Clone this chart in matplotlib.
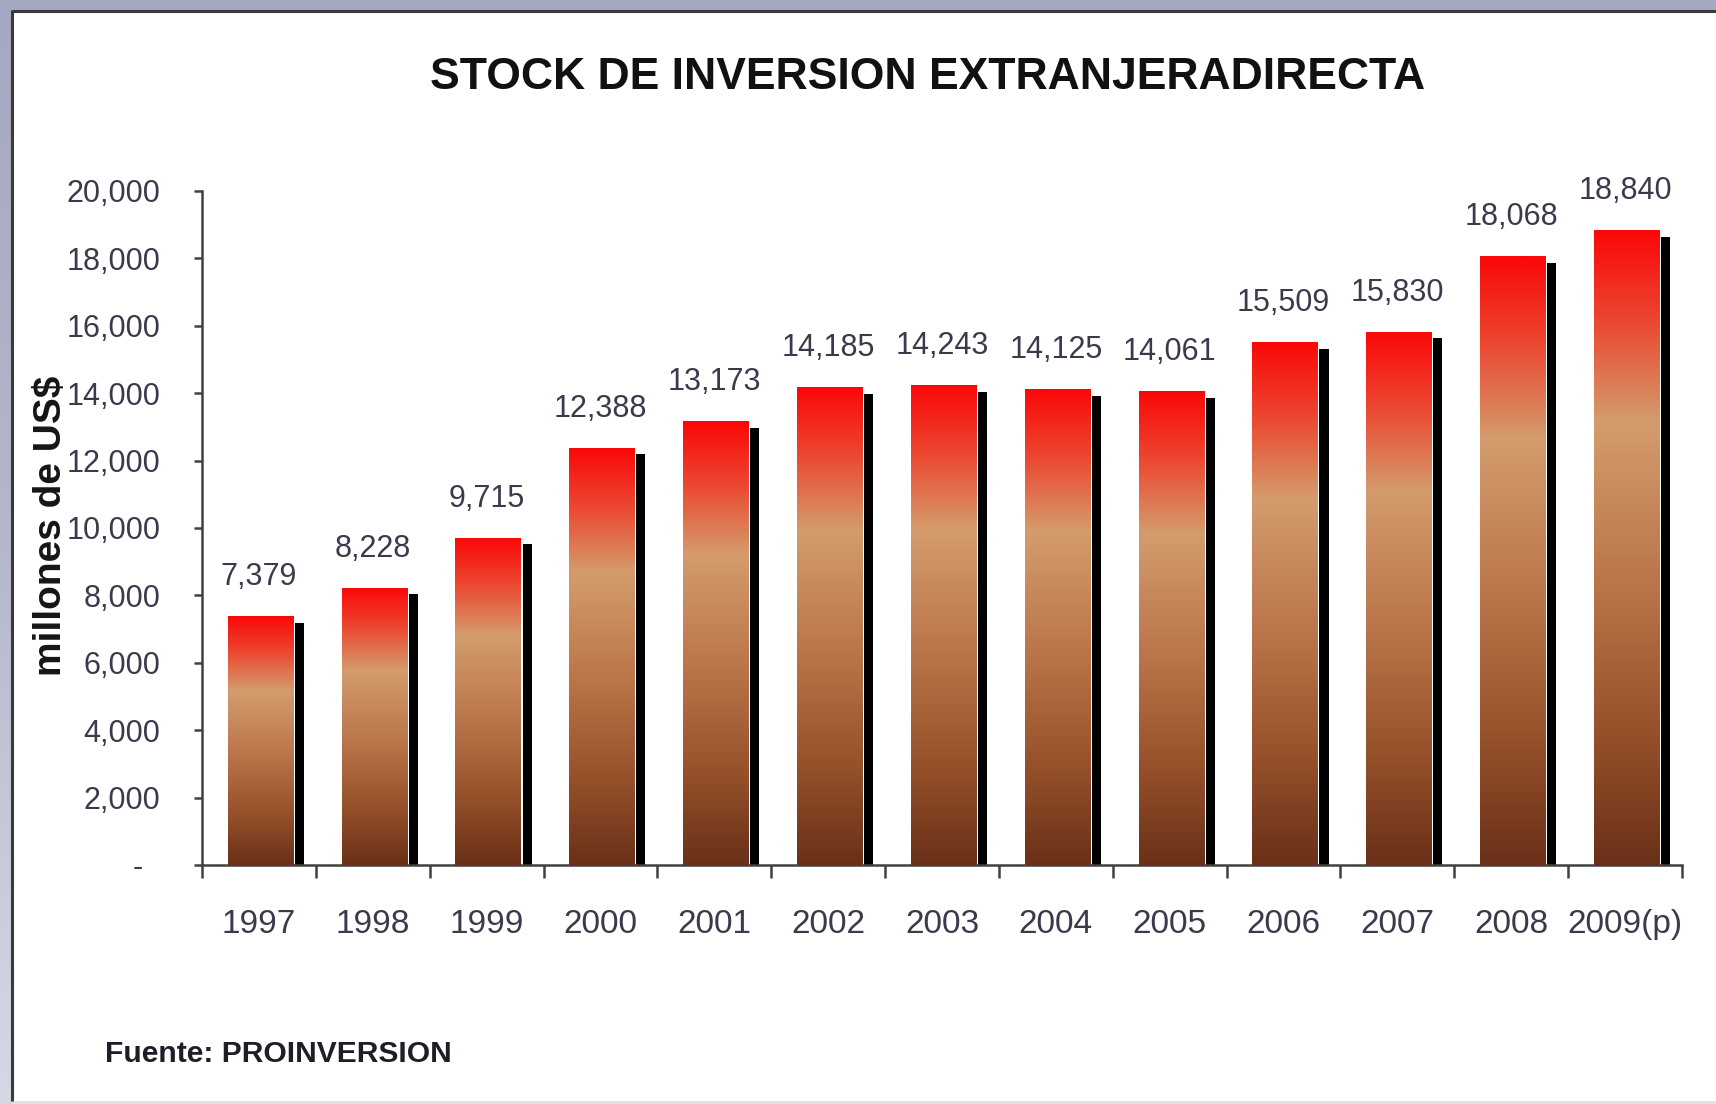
import matplotlib
matplotlib.use("Agg")
import matplotlib.pyplot as plt
import numpy as np
from matplotlib.colors import LinearSegmentedColormap
from matplotlib.patches import Rectangle
from matplotlib.ticker import FuncFormatter

# ---- data ----
years = ["1997", "1998", "1999", "2000", "2001", "2002", "2003",
         "2004", "2005", "2006", "2007", "2008", "2009(p)"]
values = [7379, 8228, 9715, 12388, 13173, 14185, 14243,
          14125, 14061, 15509, 15830, 18068, 18840]
y_ticks = [0, 2000, 4000, 6000, 8000, 10000, 12000, 14000, 16000, 18000, 20000]

title = "STOCK DE INVERSION EXTRANJERADIRECTA"
ylabel = "millones de US$"
source = "Fuente: PROINVERSION"

plt.rcParams['font.family'] = ['Liberation Sans', 'DejaVu Sans']
txt_col = "#3a3a4c"
axis_col = "#404040"

fig = plt.figure(figsize=(17.16, 11.04), dpi=100)
fig.patch.set_facecolor("#a6aac2")

# outer frame: gradient gray strip on the left, white panel with dark edge
bg = fig.add_axes([0, 0, 1, 1], zorder=-10)
bg.set_xlim(0, 1716)
bg.set_ylim(1104, 0)
bg.axis("off")
grad = np.linspace(0, 1, 256).reshape(-1, 1)
frame_cmap = LinearSegmentedColormap.from_list("frame", ["#a4a8c0", "#b4b8cc", "#d6d9e4"])
bg.imshow(grad, extent=[0, 1716, 1104, 0], cmap=frame_cmap, aspect="auto", origin="upper")
bg.add_patch(Rectangle((0, 0), 1716, 9, facecolor="#a4a8c0", edgecolor="none"))
bg.add_patch(Rectangle((12, 11), 1716, 1090, facecolor="white", edgecolor="none"))
bg.plot([12, 1716], [10.5, 10.5], color="#3a3a3a", lw=2.2, solid_capstyle="butt")
bg.plot([12, 12], [10, 1101], color="#3a3a3a", lw=2.2, solid_capstyle="butt")
bg.add_patch(Rectangle((13, 1101), 1716, 3, facecolor="#e2e2e6", edgecolor="none"))

ax = fig.add_axes([0.1177, 0.2165, 0.9802 - 0.1177, 0.827 - 0.2165])
ax.set_facecolor("none")

x = np.arange(len(years))
bw = 0.577
sw = 0.08
gap = 0.012
shift = 0.015
drop = 200

# shadow bars
ax.bar(x + shift + bw / 2 + gap + sw / 2, np.array(values) - drop, width=sw,
       color="black", zorder=2)

# front bars with vertical gradient
bar_cmap = LinearSegmentedColormap.from_list(
    "bars",
    [(0.0, "#fa0808"), (0.14, "#ec4630"), (0.30, "#d49c6c"),
     (0.55, "#bb764a"), (0.80, "#95502a"), (1.0, "#6a3018")])
bars = ax.bar(x + shift, values, width=bw, facecolor="none", edgecolor="none", zorder=3)
for b in bars:
    x0, w, h = b.get_x(), b.get_width(), b.get_height()
    im = ax.imshow(grad, extent=[x0, x0 + w, 0, h], cmap=bar_cmap,
                   aspect="auto", origin="upper", zorder=3, interpolation="bilinear")
    im.set_clip_path(b)

# value labels
for xi, v in zip(x, values):
    ax.annotate(f"{v:,}", (xi, v), xytext=(0, 28), textcoords="offset points",
                ha="center", va="center", fontsize=22, color=txt_col)

ax.set_xlim(-0.5, len(years) - 0.5)
ax.set_ylim(0, 20000)

# axes styling
for s in ["top", "right"]:
    ax.spines[s].set_visible(False)
for s in ["left", "bottom"]:
    ax.spines[s].set_color(axis_col)
    ax.spines[s].set_linewidth(1.8)

ax.set_yticks(y_ticks)
ax.yaxis.set_major_formatter(FuncFormatter(lambda v, p: "-  " if v == 0 else f"{int(v):,}"))
ax.tick_params(axis="y", direction="out", length=6, width=1.8, color=axis_col,
               labelsize=22, labelcolor=txt_col, pad=24)

ax.set_xticks(x)
ax.set_xticklabels(years)
ax.set_xticks(np.arange(len(years) + 1) - 0.5, minor=True)
ax.tick_params(axis="x", which="major", length=0, labelsize=24, labelcolor=txt_col, pad=32)
ax.tick_params(axis="x", which="minor", direction="out", length=9, width=1.8, color=axis_col)

fig.text(0.5408, 0.930, title, ha="center", va="center", fontsize=32,
         fontweight="bold", color="#111111")
fig.text(0.030, 0.524, ylabel, ha="center", va="center", rotation=90,
         fontsize=28, fontweight="bold", color="#151515")
fig.text(0.061, 0.045, source, ha="left", va="center", fontsize=21.6,
         fontweight="bold", color="#1e1e28")

fig.savefig("out.png", dpi=100)
